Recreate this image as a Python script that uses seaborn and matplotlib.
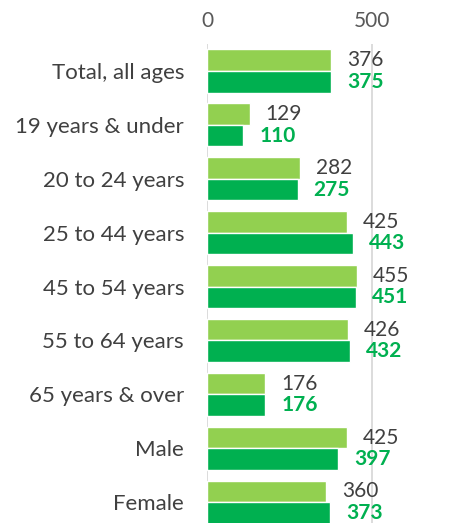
import matplotlib
matplotlib.use("Agg")
import matplotlib.pyplot as plt
import seaborn as sns
import pandas as pd

categories = ["Total, all ages", "19 years & under", "20 to 24 years", "25 to 44 years",
              "45 to 54 years", "55 to 64 years", "65 years & over", "Male", "Female"]
series_names = ["Series 1", "Series 2"]
values_light = [376, 129, 282, 425, 455, 426, 176, 425, 360]
values_dark = [375, 110, 275, 443, 451, 432, 176, 397, 373]
x_ticks = [0, 500]

light = "#92D050"
dark = "#00B050"

df = pd.DataFrame({
    "category": categories * 2,
    "series": [series_names[0]] * len(categories) + [series_names[1]] * len(categories),
    "value": values_light + values_dark,
})

sns.set_theme(style="white")
plt.rcParams["font.family"] = ["Lato", "DejaVu Sans"]

fig = plt.figure(figsize=(4.64, 5.23), dpi=100)
ax = fig.add_axes([207 / 464, 0.0, 1 - 207 / 464, 1 - 44 / 523])

sns.barplot(data=df, y="category", x="value", hue="series", orient="h",
            palette=[light, dark], width=0.8, ax=ax, legend=False,
            order=categories, hue_order=series_names, saturation=1)

ax.set_xlim(0, (464 - 207) / 0.33)
ax.set_ylim(8.386, -0.5)
ax.set_xticks(x_ticks)
ax.xaxis.tick_top()
ax.tick_params(axis="x", length=0, labelsize=15, labelcolor="#595959", pad=9.5)
ax.tick_params(axis="y", length=0, labelsize=16, labelcolor="#404040", pad=16.5)
ax.set_xlabel("")
ax.set_ylabel("")
for s in ax.spines.values():
    s.set_visible(False)
ax.grid(axis="x", color="#D9D9D9", linewidth=1.3)
ax.set_axisbelow(True)

offset_pt = 16 * 72 / 100
for patch, v in zip(ax.containers[0], values_light):
    y = patch.get_y() + patch.get_height() / 2
    ax.annotate(f"{v}", xy=(patch.get_width(), y), xytext=(offset_pt, 0),
                textcoords="offset points", ha="left", va="center",
                fontsize=15, color="#404040")
for patch, v in zip(ax.containers[1], values_dark):
    y = patch.get_y() + patch.get_height() / 2
    ax.annotate(f"{v}", xy=(patch.get_width(), y), xytext=(offset_pt, 0),
                textcoords="offset points", ha="left", va="center",
                fontsize=15, color=dark, fontweight="bold")

fig.savefig("out.png", dpi=100)
